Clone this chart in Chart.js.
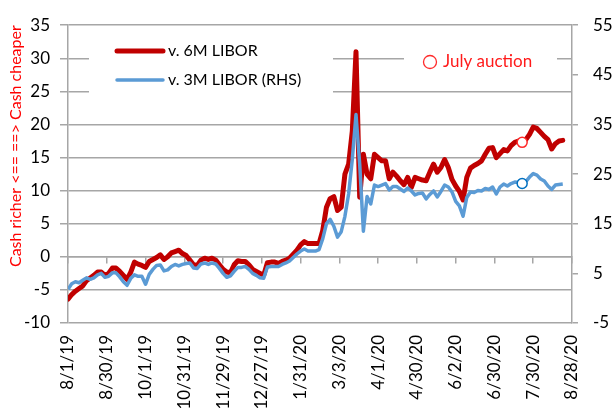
<!DOCTYPE html>
<html lang="en">
<head>
<meta charset="UTF-8">
<title>Cash vs LIBOR</title>
<script src="https://cdn.jsdelivr.net/npm/chart.js"></script>
<style>
  html, body { margin: 0; padding: 0; background: #fff; }
</style>
</head>
<body>
<canvas id="chart" width="614" height="414"></canvas>
<script>
// business-day index 0 = 8/1/19, one value every 2 business days
const dayStep = 2;
const labelEvery = 21;
const lastDay = 273;

const xTickLabels = ['8/1/19', '8/30/19', '10/1/19', '10/31/19', '11/29/19', '12/27/19', '1/31/20',
  '3/3/20', '4/1/20', '4/30/20', '6/2/20', '6/30/20', '7/30/20', '8/28/20'];

// v. 6M LIBOR (left axis)
const red6m = [
  -6.4, -5.7, -5.2, -4.8, -4.4, -3.6, -3.2, -2.8, -2.3, -2.3,
  -2.8, -2.5, -1.7, -1.7, -2.2, -2.8, -3.4, -2.3, -0.8, -1.1,
  -1.3, -1.6, -0.7, -0.4, -0.1, 0.3, -0.4, 0.0, 0.6, 0.8,
  1.0, 0.5, 0.2, -0.5, -1.2, -1.3, -0.5, -0.2, -0.4, -0.2,
  -0.5, -1.2, -1.9, -2.3, -2.4, -1.2, -0.6, -0.7, -0.7, -1.2,
  -1.9, -2.2, -2.5, -2.8, -0.9, -0.8, -0.8, -1.0, -0.7, -0.5,
  -0.2, 0.4, 1.0, 1.8, 2.3, 2.0, 2.0, 2.0, 2.0, 4.0,
  7.5, 8.8, 9.1, 7.0, 7.5, 12.5, 14.0, 19.0, 31.0, 9.0,
  15.5, 12.5, 11.8, 15.5, 15.0, 14.5, 14.5, 11.8, 12.8, 12.2,
  11.5, 10.9, 12.0, 10.5, 12.0, 11.8, 11.6, 11.5, 12.8, 14.0,
  12.8, 13.5, 14.7, 13.5, 11.7, 10.7, 9.9, 8.6, 12.0, 13.4,
  13.8, 14.1, 14.5, 15.5, 16.4, 16.5, 15.0, 15.6, 16.2, 16.0,
  16.8, 17.3, 17.5, 17.3, 17.7, 18.5, 19.6, 19.4, 18.8, 18.2,
  17.7, 16.3, 17.1, 17.5, 17.6
];

// v. 3M LIBOR (right axis)
const blue3m = [
  1.8, 2.9, 3.3, 3.1, 3.6, 4.1, 3.8, 4.1, 4.7, 5.0,
  4.2, 4.4, 5.1, 5.1, 4.3, 3.3, 2.6, 4.0, 4.7, 4.4,
  4.4, 2.8, 4.8, 5.8, 6.6, 6.7, 5.5, 5.7, 6.4, 6.8,
  6.5, 6.8, 7.0, 7.1, 6.1, 6.0, 6.9, 7.1, 6.8, 7.1,
  6.9, 6.0, 5.0, 4.2, 4.5, 5.4, 6.2, 6.2, 6.4, 5.8,
  5.0, 4.6, 4.1, 4.0, 6.3, 6.4, 6.4, 6.4, 6.8, 7.1,
  7.5, 8.2, 8.9, 9.5, 9.9, 9.5, 9.5, 9.5, 9.8, 12.0,
  15.0, 15.9, 14.5, 12.3, 13.4, 16.5, 21.0, 28.0, 37.0, 27.0,
  13.5, 20.5, 19.0, 22.8, 22.5, 22.8, 23.1, 21.8, 22.5, 22.5,
  22.0, 21.5, 22.2, 21.6, 20.8, 21.1, 21.2, 20.0, 20.9, 21.6,
  20.4, 21.5, 22.8, 22.4, 21.4, 19.5, 18.6, 16.5, 20.3, 21.4,
  21.3, 21.7, 21.6, 22.1, 21.9, 22.4, 21.0, 22.4, 23.0, 22.6,
  23.1, 23.4, 23.3, 23.1, 23.5, 24.4, 25.1, 24.8, 24.0, 23.6,
  22.6, 21.9, 22.8, 22.9, 23.0
];

// July auction markers
const auctionDay = 246;
const auctionRed = 17.3;
const auctionBlue = 23.1;

const gridColor = '#a6a6a6';
const fontFamily = 'Lato, "Open Sans", sans-serif';

function toPoints(arr) {
    return arr.map((v, k) => ({ x: k * dayStep, y: v }));
}

function labelTicks(scale) {
    const ticks = [];
    for (let i = 0; i < xTickLabels.length; i++) ticks.push({ value: i * labelEvery });
    scale.ticks = ticks;
}

// white boxes behind the in-chart legend and the note, plus their contents
const overlayBoxes = {
    id: 'overlayBoxes',
    beforeDatasetsDraw(chart) {
        const ctx = chart.ctx;
        ctx.save();
        ctx.fillStyle = '#fff';
        ctx.fillRect(89, 26, 244, 70);
        ctx.fillRect(404, 36, 153, 44);
        ctx.restore();
    },
    afterDatasetsDraw(chart) {
        const ctx = chart.ctx;
        ctx.save();
        ctx.lineCap = 'round';
        ctx.strokeStyle = '#c00000';
        ctx.lineWidth = 5;
        ctx.beginPath(); ctx.moveTo(117, 51); ctx.lineTo(163, 51); ctx.stroke();
        ctx.strokeStyle = '#5b9bd5';
        ctx.lineWidth = 3.5;
        ctx.beginPath(); ctx.moveTo(117, 80); ctx.lineTo(163, 80); ctx.stroke();

        ctx.fillStyle = '#000';
        ctx.font = '16px ' + fontFamily;
        ctx.textBaseline = 'middle';
        ctx.fillText('v. 6M LIBOR', 168, 51);
        ctx.fillText('v. 3M LIBOR (RHS)', 168, 80);

        ctx.strokeStyle = '#ff2a2a';
        ctx.lineWidth = 1.3;
        ctx.beginPath(); ctx.arc(430, 62, 6.5, 0, Math.PI * 2); ctx.stroke();
        ctx.fillStyle = '#ff1a1a';
        ctx.font = '17px ' + fontFamily;
        ctx.fillText('July auction', 443, 62);
        ctx.restore();
    }
};

new Chart(document.getElementById('chart'), {
    type: 'line',
    data: {
        datasets: [
            {
                label: 'v. 6M LIBOR',
                data: toPoints(red6m),
                borderColor: '#c00000',
                borderWidth: 5,
                pointRadius: 0,
                borderJoinStyle: 'round',
                borderCapStyle: 'round',
                yAxisID: 'y',
                order: 2
            },
            {
                label: 'v. 3M LIBOR (RHS)',
                data: toPoints(blue3m),
                borderColor: '#5b9bd5',
                borderWidth: 3.5,
                pointRadius: 0,
                borderJoinStyle: 'round',
                yAxisID: 'y2',
                order: 1
            },
            {
                label: 'July auction 6M',
                data: [{ x: auctionDay, y: auctionRed }],
                showLine: false,
                pointRadius: 5,
                pointBorderWidth: 1.5,
                pointBackgroundColor: '#fff',
                pointBorderColor: '#ff2a2a',
                yAxisID: 'y',
                order: 0
            },
            {
                label: 'July auction 3M',
                data: [{ x: auctionDay, y: auctionBlue }],
                showLine: false,
                pointRadius: 5,
                pointBorderWidth: 1.5,
                pointBackgroundColor: '#fff',
                pointBorderColor: '#0070c0',
                yAxisID: 'y2',
                order: 0
            }
        ]
    },
    options: {
        responsive: false,
        animation: false,
        layout: { padding: { top: 18, left: 0, right: 0, bottom: 0 } },
        plugins: {
            legend: { display: false },
            tooltip: { enabled: false }
        },
        scales: {
            x: {
                type: 'linear',
                min: 0,
                max: lastDay,
                position: 'bottom',
                afterBuildTicks: labelTicks,
                afterFit(scale) { scale.height = 91; },
                grid: { display: false, drawTicks: false },
                border: { display: false },
                ticks: {
                    autoSkip: false,
                    maxRotation: 90,
                    minRotation: 90,
                    padding: 12,
                    color: '#000',
                    font: { family: fontFamily, size: 17 },
                    callback: (v) => xTickLabels[Math.round(v / labelEvery)]
                }
            },
            xZero: {
                type: 'linear',
                min: 0,
                max: lastDay,
                position: { y: 0 },
                afterBuildTicks: labelTicks,
                grid: { display: true, drawOnChartArea: false, drawTicks: true, tickLength: 6, color: gridColor, lineWidth: 1.5 },
                border: { display: true, color: gridColor, width: 1.5 },
                ticks: { display: false }
            },
            y: {
                position: 'left',
                min: -10,
                max: 35,
                afterFit(scale) { scale.width = 68; },
                ticks: {
                    stepSize: 5,
                    padding: 10,
                    color: '#000',
                    font: { family: fontFamily, size: 17 }
                },
                grid: { color: gridColor, lineWidth: 1.5, tickLength: 8 },
                border: { display: true, color: gridColor, width: 1.5 },
                title: {
                    display: true,
                    text: 'Cash richer <== ==> Cash cheaper',
                    align: 'end',
                    color: '#ff0000',
                    font: { family: fontFamily, size: 16 },
                    padding: { top: 6, bottom: 0 }
                }
            },
            y2: {
                position: 'right',
                min: -5,
                max: 55,
                afterFit(scale) { scale.width = 42; },
                ticks: {
                    stepSize: 10,
                    padding: 15,
                    color: '#000',
                    font: { family: fontFamily, size: 17 }
                },
                grid: { drawOnChartArea: false, color: gridColor, lineWidth: 1.5, tickLength: 6 },
                border: { display: true, color: gridColor, width: 1.5 }
            }
        }
    },
    plugins: [overlayBoxes]
});
</script>
</body>
</html>
